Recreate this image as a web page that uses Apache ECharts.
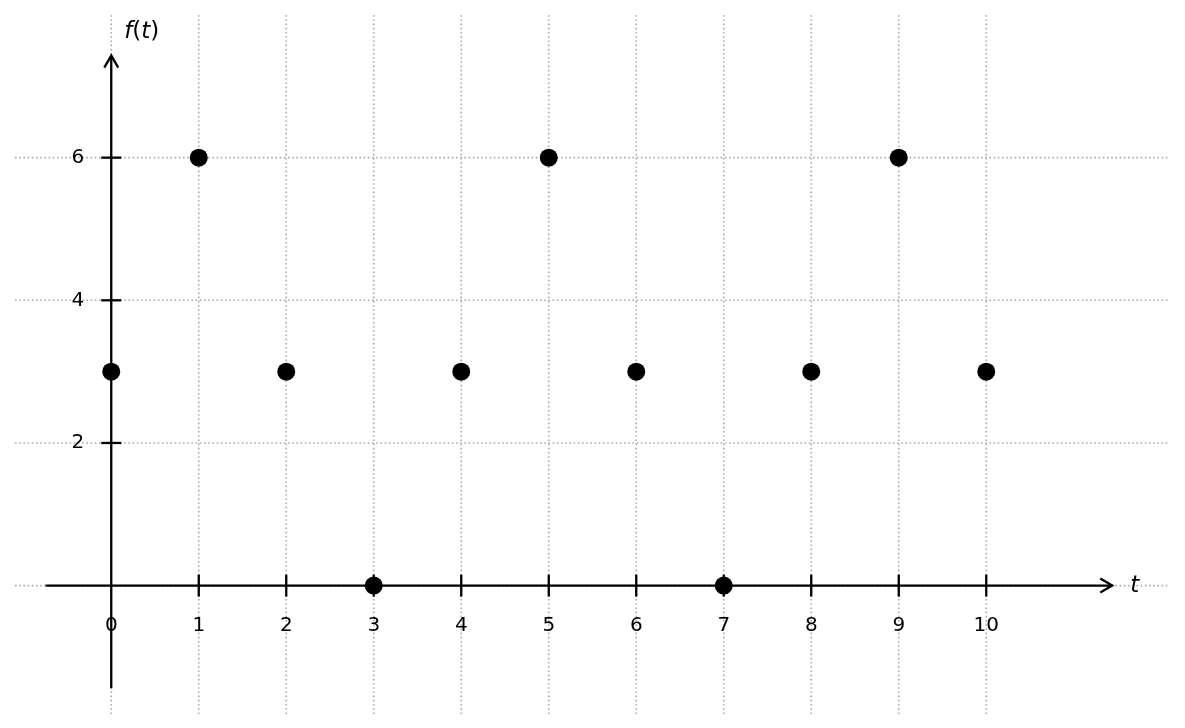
<!DOCTYPE html>
<html>
<head>
<meta charset="utf-8">
<script src="https://cdn.jsdelivr.net/npm/echarts@6/dist/echarts.min.js"></script>
<style>
html, body { margin: 0; padding: 0; background: #fff; }
#chart { width: 1185px; height: 728px; }
</style>
</head>
<body>
<div id="chart"></div>
<script>
// samples of f(t)
const tValues = [0, 1, 2, 3, 4, 5, 6, 7, 8, 9, 10];
const fValues = [3, 6, 3, 0, 3, 6, 3, 0, 3, 6, 3];

// ticks, labels, grid
const xTicks = [1, 2, 3, 4, 5, 6, 7, 8, 9, 10];
const xLabelPos = [0, 1, 2, 3, 4, 5, 6, 7, 8, 9, 10];
const xTickLabels = ['0', '1', '2', '3', '4', '5', '6', '7', '8', '9', '10'];
const yTicks = [2, 4, 6];
const yTickLabels = ['2', '4', '6'];
const xGrid = [0, 1, 2, 3, 4, 5, 6, 7, 8, 9, 10];
const yGrid = [0, 2, 4, 6];

// view limits and arrow axis spans
const xRange = [-1.1, 12.1];
const yRange = [-1.8, 8.0];
const xAxisSpan = [-0.75, 11.44];
const yAxisSpan = [-1.44, 7.43];

const FONT = '"DejaVu Sans", sans-serif';
const gridStyle = { stroke: '#aaaaaa', lineWidth: 1.6, lineDash: [1.6, 2.6], fill: null };
const axisStyle = { stroke: '#000', lineWidth: 2.3, fill: null };

const chart = echarts.init(document.getElementById('chart'));

const option = {
    animation: false,
    grid: { left: 15, right: 15, top: 15, bottom: 14 },
    xAxis: {
        type: 'value', min: xRange[0], max: xRange[1],
        axisLine: { show: false }, axisTick: { show: false },
        axisLabel: { show: false }, splitLine: { show: false }
    },
    yAxis: {
        type: 'value', min: yRange[0], max: yRange[1],
        axisLine: { show: false }, axisTick: { show: false },
        axisLabel: { show: false }, splitLine: { show: false }
    },
    series: [
        // vertical grid
        {
            type: 'custom', z: 1, clip: false, silent: true,
            data: xGrid.map(x => [x, 0]),
            renderItem: (params, api) => {
                const x = api.value(0);
                const a = api.coord([x, yRange[0]]);
                const b = api.coord([x, yRange[1]]);
                return { type: 'line', shape: { x1: a[0], y1: a[1], x2: b[0], y2: b[1] }, style: gridStyle };
            }
        },
        // horizontal grid
        {
            type: 'custom', z: 1, clip: false, silent: true,
            data: yGrid.map(y => [0, y]),
            renderItem: (params, api) => {
                const y = api.value(1);
                const a = api.coord([xRange[0], y]);
                const b = api.coord([xRange[1], y]);
                return { type: 'line', shape: { x1: a[0], y1: a[1], x2: b[0], y2: b[1] }, style: gridStyle };
            }
        },
        // axes with arrows and axis names
        {
            type: 'custom', z: 3, clip: false, silent: true,
            data: [[0, 0]],
            renderItem: (params, api) => {
                const xa = api.coord([xAxisSpan[0], 0]);
                const xb = api.coord([xAxisSpan[1], 0]);
                const ya = api.coord([0, yAxisSpan[0]]);
                const yb = api.coord([0, yAxisSpan[1]]);
                return {
                    type: 'group',
                    children: [
                        { type: 'line', shape: { x1: xa[0], y1: xa[1], x2: xb[0], y2: xb[1] }, style: axisStyle },
                        { type: 'line', shape: { x1: ya[0], y1: ya[1], x2: yb[0], y2: yb[1] }, style: axisStyle },
                        { type: 'polyline', shape: { points: [[xb[0] - 12, xb[1] - 7], [xb[0], xb[1]], [xb[0] - 12, xb[1] + 7]] }, style: axisStyle },
                        { type: 'polyline', shape: { points: [[yb[0] - 7, yb[1] + 12], [yb[0], yb[1]], [yb[0] + 7, yb[1] + 12]] }, style: axisStyle },
                        {
                            type: 'text', x: xb[0] + 18, y: xb[1],
                            style: { text: 't', font: 'italic 23px ' + FONT, fill: '#000', verticalAlign: 'middle' }
                        },
                        {
                            type: 'text', x: yb[0] + 13, y: yb[1] - 24,
                            style: {
                                text: '{i|f}{n|(}{i|t}{n|)}', verticalAlign: 'middle',
                                rich: {
                                    i: { font: 'italic 23px ' + FONT, fill: '#000' },
                                    n: { font: '23px ' + FONT, fill: '#000' }
                                }
                            }
                        }
                    ]
                };
            }
        },
        // x ticks
        {
            type: 'custom', z: 3, clip: false, silent: true,
            data: xTicks.map(x => [x, 0]),
            renderItem: (params, api) => {
                const p = api.coord([api.value(0), 0]);
                return { type: 'line', shape: { x1: p[0], y1: p[1] - 11, x2: p[0], y2: p[1] + 11 }, style: axisStyle };
            }
        },
        // y ticks
        {
            type: 'custom', z: 3, clip: false, silent: true,
            data: yTicks.map(y => [0, y]),
            renderItem: (params, api) => {
                const p = api.coord([0, api.value(1)]);
                return { type: 'line', shape: { x1: p[0] - 10, y1: p[1], x2: p[0] + 10, y2: p[1] }, style: axisStyle };
            }
        },
        // x tick labels
        {
            type: 'custom', z: 2, clip: false, silent: true,
            data: xLabelPos.map((x, i) => [x, 0, i]),
            renderItem: (params, api) => {
                const p = api.coord([api.value(0), 0]);
                return {
                    type: 'text', x: p[0], y: p[1] + 40,
                    style: { text: xTickLabels[api.value(2)], font: '20px ' + FONT, fill: '#000', align: 'center', verticalAlign: 'middle' }
                };
            }
        },
        // y tick labels
        {
            type: 'custom', z: 2, clip: false, silent: true,
            data: yTicks.map((y, i) => [0, y, i]),
            renderItem: (params, api) => {
                const p = api.coord([0, api.value(1)]);
                return {
                    type: 'text', x: p[0] - 27, y: p[1],
                    style: { text: yTickLabels[api.value(2)], font: '20px ' + FONT, fill: '#000', align: 'right', verticalAlign: 'middle' }
                };
            }
        },
        // samples
        {
            type: 'scatter', z: 5,
            data: tValues.map((t, i) => [t, fValues[i]]),
            symbol: 'circle',
            symbolSize: 18,
            itemStyle: { color: '#000', opacity: 1 }
        }
    ]
};

chart.setOption(option);
</script>
</body>
</html>
